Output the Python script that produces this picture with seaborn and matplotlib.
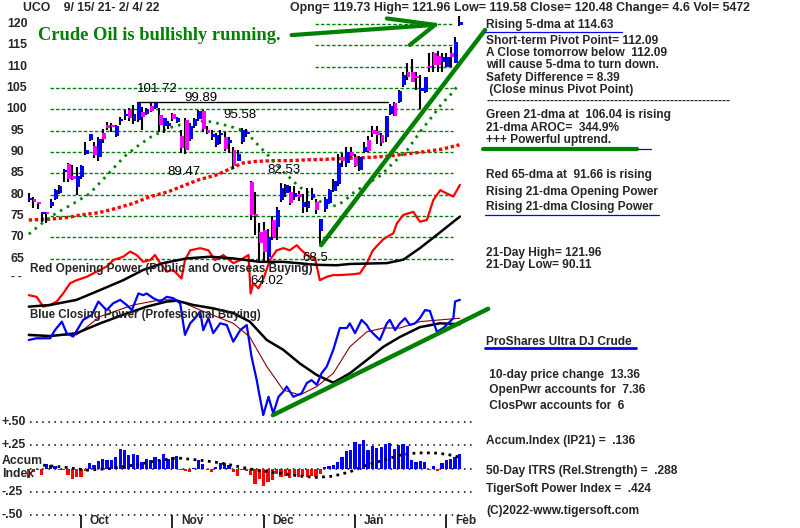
import matplotlib
matplotlib.use("Agg")
import matplotlib.pyplot as plt
import seaborn as sns
import numpy as np

# ---------------- data ----------------
days = list(range(100))
opens = [78.8, 79.0, 78.0, 75.5, 76.0, 77.4, 78.9, 80.5, 85.3, 87.2,
         84.4, 81.9, 84.1, 89.5, 92.8, 91.4, 88.9, 94.5, 96.3, 96.2,
         93.8, 97.3, 98.5, 99.9, 97.4, 97.5, 99.5, 98.9, 100.8, 100.3,
         98.7, 96.1, 96.0, 99.0, 97.1, 93.8, 97.5, 93.0, 96.1, 97.7,
         99.7, 95.2, 93.5, 91.7, 94.0, 93.6, 92.1, 90.5, 87.8, 92.4,
         94.2, 83.1, 75.5, 71.4, 71.8, 65.5, 74.1, 72.5, 78.8, 80.4,
         80.7, 79.5, 80.0, 77.2, 77.0, 79.5, 78.4, 71.6, 76.7, 78.1,
         81.0, 82.5, 88.9, 87.4, 90.1, 88.9, 85.8, 90.1, 92.8, 95.2,
         95.0, 94.0, 93.5, 98.9, 101.4, 101.8, 105.7, 108.8, 108.8, 107.7,
         104.2, 104.1, 110.2, 113.1, 112.5, 111.2, 110.0, 113.3, 110.8, 119.73]
highs = [80.4, 79.6, 78.4, 76.0, 76.0, 79.0, 81.3, 82.2, 86.0, 87.5,
         87.0, 86.5, 87.0, 92.4, 94.3, 92.4, 93.6, 95.4, 97.1, 96.7,
         96.3, 98.2, 99.9, 100.3, 101.0, 101.7, 100.6, 100.3, 101.5, 101.72,
         100.3, 98.0, 97.3, 99.2, 98.2, 95.2, 97.9, 96.8, 97.9, 99.89,
         99.9, 96.0, 95.2, 94.5, 95.2, 94.8, 93.5, 91.2, 90.5, 95.58,
         95.4, 83.3, 80.7, 73.4, 73.6, 72.0, 75.0, 77.2, 82.7, 82.53,
         82.0, 82.0, 81.0, 80.3, 81.7, 81.5, 79.0, 74.4, 79.5, 81.4,
         83.6, 89.6, 89.7, 91.3, 91.3, 89.5, 89.2, 92.4, 93.8, 96.0,
         96.0, 94.5, 98.5, 101.2, 101.8, 104.6, 108.8, 110.8, 111.7, 108.8,
         108.0, 107.6, 113.1, 113.5, 113.7, 113.1, 113.3, 114.7, 117.0, 121.96]
lows = [78.3, 76.8, 76.6, 73.7, 73.3, 76.8, 78.7, 80.3, 83.1, 83.0,
        83.5, 80.0, 83.8, 89.3, 92.5, 88.6, 87.9, 92.1, 95.2, 94.8,
        93.5, 96.3, 97.5, 97.2, 96.6, 97.0, 95.2, 98.6, 99.4, 100.0,
        94.8, 94.5, 95.3, 97.3, 96.9, 89.7, 89.47, 92.5, 95.6, 97.3,
        94.8, 94.2, 92.8, 91.3, 92.0, 90.2, 89.7, 86.0, 87.8, 92.0,
        93.6, 74.0, 70.6, 64.5, 64.3, 64.02, 69.5, 69.4, 78.3, 79.5,
        77.5, 78.8, 78.5, 75.7, 76.0, 78.8, 75.5, 68.5, 76.0, 77.8,
        80.7, 82.0, 86.6, 86.6, 88.9, 86.5, 85.5, 89.9, 90.1, 93.6,
        92.0, 91.5, 92.4, 98.6, 98.4, 101.5, 105.3, 106.9, 106.5, 104.5,
        100.2, 103.8, 108.8, 108.8, 108.8, 108.8, 110.0, 110.0, 110.8, 119.58]
closes = [79.0, 78.2, 77.8, 75.7, 75.5, 78.4, 81.1, 82.0, 85.5, 83.6,
          83.7, 84.4, 86.7, 90.6, 94.2, 89.3, 93.0, 93.0, 95.6, 95.9,
          96.1, 97.7, 98.8, 97.9, 98.9, 101.4, 98.3, 100.0, 99.7, 101.4,
          96.3, 97.9, 96.8, 97.7, 98.0, 90.9, 90.5, 96.0, 97.7, 99.7,
          95.3, 94.4, 94.3, 94.0, 94.5, 90.7, 92.8, 86.7, 89.6, 95.2,
          94.5, 75.3, 75.0, 68.6, 66.7, 70.2, 70.2, 76.4, 81.5, 82.3,
          78.0, 80.5, 79.6, 78.4, 78.5, 80.3, 76.4, 74.3, 79.0, 81.1,
          83.3, 87.4, 87.8, 90.1, 89.1, 86.7, 88.9, 91.3, 90.3, 94.2,
          94.0, 92.2, 98.5, 100.8, 98.5, 104.4, 108.0, 107.7, 106.5, 107.3,
          104.9, 107.5, 109.6, 110.4, 110.5, 112.2, 112.2, 112.2, 115.88, 120.48]

ma21_day = [0, 3, 6, 11, 14, 18, 22, 25, 28, 32, 36, 39, 42, 46, 50, 52, 54, 56, 58,
            60, 62, 65, 67, 69, 71, 73, 75, 77, 81, 83, 87, 90, 93, 95, 97, 99]
ma21_val = [70.8, 73.3, 75.5, 78.4, 80.3, 84.6, 89.0, 91.4, 93.5, 95.6, 96.7, 97.3, 97.1,
            96.1, 94.8, 92.4, 90.3, 88.2, 85.8, 84.0, 82.0, 80.0, 78.4, 77.3, 77.5, 79.0,
            80.8, 82.0, 84.6, 86.7, 90.5, 94.8, 98.7, 101.4, 103.5, 106.0]
ma65_day = [0, 5, 9, 12, 16, 20, 24, 28, 32, 35, 39, 43, 47, 49, 52, 56, 60, 64, 68,
            72, 75, 79, 83, 87, 91, 95, 99]
ma65_val = [74.1, 74.3, 74.7, 75.3, 75.8, 76.8, 78.0, 79.6, 80.7, 81.9, 83.5, 84.6, 86.4,
            87.4, 87.8, 88.0, 88.0, 88.2, 88.3, 88.5, 88.6, 88.8, 89.1, 89.6, 90.1, 90.7, 91.7]

# Red opening power (drawn on the price scale of the picture)
op_day = [0, 1.8, 3.3, 4.9, 6.4, 7.9, 9.5, 11, 13.3, 15.6, 17.9, 19.4, 21.7, 23.3, 24.8,
          26.3, 27.9, 29, 30.2, 31.7, 33.2, 35.1, 35.9, 37.1, 39.4, 41.3, 42.8, 44.7, 47,
          48.6, 50.5, 51, 51.6, 52.8, 54, 55.4, 57, 58.5, 60, 61.6, 62.7, 63.9, 65.8, 66.9,
          68.5, 70, 71.5, 74.6, 76.1, 77.7, 79.1, 81.5, 83.8, 84.6, 86.1, 88.4, 89.9, 91.5,
          93, 94.6, 96.1, 97.6, 99.1]
op_val = [56.5, 56.1, 53.8, 54.2, 55.0, 56.9, 59.3, 60.0, 60.8, 62.0, 63.2, 64.7, 65.5,
          66.7, 65.9, 64.3, 64.7, 65.9, 64.0, 62.0, 62.4, 60.4, 64.7, 67.0, 67.5, 67.0, 64.7,
          65.9, 64.0, 64.7, 65.9, 56.9, 59.3, 58.1, 60.5, 64.7, 67.0, 67.5, 67.0, 68.2, 67.0,
          65.9, 65.1, 60.0, 60.8, 61.2, 61.2, 61.4, 61.6, 64.0, 67.0, 69.6, 71.0, 73.3, 75.3,
          76.0, 73.7, 74.1, 78.8, 81.1, 80.3, 79.6, 82.3]
opma_day = [0, 4.9, 11, 16.4, 21.7, 26.3, 30.9, 36.3, 41.7, 47, 53.1, 58.5, 66.2, 70.8,
            73.8, 82.3, 86.1, 89.9, 93.8, 99.1]
opma_val = [53.8, 54.2, 55.4, 57.7, 60.0, 62.4, 64.0, 65.1, 65.5, 65.1, 64.3, 64.3, 63.6,
            63.5, 63.8, 64.0, 64.8, 67.5, 70.6, 74.9]

# Blue closing power (middle band)
cp_day = [0, 1.8, 4.9, 6, 7.6, 8.7, 10.2, 12.5, 14.5, 16, 17.1, 17.9, 19.4, 21, 22.5, 23.7,
          25.2, 26.3, 27.1, 28.6, 30.2, 31.7, 33.2, 34.8, 35.9, 37.1, 38.2, 39.4, 40.1, 41.3,
          42.4, 44, 45.5, 47, 48.6, 50.1, 51.2, 52.4, 52.8, 53.9, 55.1, 56.2, 57.4, 58.5,
          59.3, 60.8, 62.7, 63.9, 65, 66.2, 67.3, 68.5, 70, 71.5, 73.1, 73.8, 75, 76.5, 77.7,
          78.4, 80.7, 82.3, 83, 84.2, 85.3, 86.5, 87.6, 88.8, 89.9, 91.1, 92.2, 93.8, 95.3,
          96.4, 97.6, 98, 99.1]
cp_val = [46.0, 46.4, 46.4, 48.3, 50.3, 47.6, 46.8, 50.7, 51.9, 55.0, 53.8, 53.0, 54.6,
          55.4, 54.2, 53.0, 56.9, 56.5, 56.9, 55.8, 55.0, 56.1, 55.8, 54.6, 47.2, 49.9, 51.1,
          52.6, 48.3, 51.1, 47.6, 49.9, 49.5, 45.6, 48.3, 49.5, 42.1, 36.6, 34.3, 28.4, 32.7,
          28.8, 32.7, 33.9, 35.1, 32.7, 33.5, 35.9, 36.6, 35.5, 38.2, 39.8, 43.7, 48.8, 48.8,
          49.9, 47.6, 50.7, 49.5, 48.3, 46.0, 49.9, 50.7, 48.3, 49.9, 51.1, 49.5, 49.9, 51.1,
          53.0, 52.8, 47.9, 48.8, 49.9, 51.1, 55.0, 55.4]
cpma_day = [0, 4.9, 11, 16.4, 21.7, 27.1, 31.7, 34, 37.8, 42.4, 47, 50.8, 54.7, 58.5, 62.3,
            66.2, 70, 73.8, 77.7, 81.5, 85.3, 89.9, 94.5, 99.1]
cpma_val = [47.2, 46.9, 47.6, 49.9, 51.9, 53.8, 55.0, 55.2, 54.2, 53.4, 52.3, 50.3, 46.0,
            43.7, 40.5, 37.8, 36.0, 38.2, 41.3, 44.4, 46.7, 49.0, 49.9, 49.7]
cpma2_day = [0, 11, 16.4, 24, 30.2, 34, 39.4, 47, 50.8, 54.7, 58.5, 62.3, 66.2, 70, 73.8,
             77.7, 81.5, 85.3, 89.9, 94.5, 99.1]
cpma2_val = [47.0, 47.2, 51.5, 54.2, 55.4, 55.4, 53.0, 49.9, 46.7, 39.8, 34.3, 33.1, 35.1,
             38.2, 44.4, 47.9, 48.8, 48.8, 50.3, 50.7, 51.1]

# Accumulation index (IP21)
accum = [-0.107, -0.036, -0.018, -0.071, 0.046, 0.036, 0.025, -0.018, -0.011, -0.071,
         -0.118, -0.096, -0.089, -0.025, 0.054, 0.036, 0.082, 0.107, 0.089, 0.089,
         0.125, 0.214, 0.196, 0.143, 0.154, 0.143, 0.071, 0.107, 0.089, 0.125,
         0.096, 0.161, 0.107, 0.125, 0.132, -0.018, -0.025, -0.036, 0.008, 0.089,
         0.046, -0.011, -0.036, 0.018, 0.061, 0.054, 0.036, -0.036, -0.082, -0.011,
         -0.025, -0.071, -0.168, -0.118, -0.189, -0.143, -0.125, -0.054, -0.096, -0.082,
         -0.107, -0.082, -0.096, -0.082, -0.096, -0.082, -0.096, -0.061, 0.018, 0.025,
         0.036, 0.071, 0.125, 0.186, 0.196, 0.286, 0.268, 0.304, 0.196, 0.239,
         0.225, 0.232, 0.268, 0.275, 0.214, 0.250, 0.268, 0.239, 0.089, 0.071,
         0.082, 0.071, -0.011, 0.025, -0.025, 0.061, 0.096, 0.107, 0.125, 0.154]
accma_day = [3.3, 8.7, 13.3, 18.7, 24, 29.4, 34, 39.4, 44, 48.5, 53.1, 58.5, 62.3, 66.2,
             70, 73.8, 77.7, 81.5, 85.3, 89.2, 93, 96, 98.7]
accma_val = [0.036, 0.011, -0.018, 0.0, 0.036, 0.082, 0.114, 0.089, 0.061, 0.018, -0.025,
             -0.054, -0.082, -0.096, -0.082, -0.036, 0.036, 0.089, 0.143, 0.168, 0.168,
             0.154, 0.125]

price_ticks = [120, 115, 110, 105, 100, 95, 90, 85, 80, 75, 70, 65]
accum_ticks = [0.50, 0.25, 0.0, -0.25, -0.50]
accum_tick_labels = ["+.50", "+.25", "", "-.25", "-.50"]
month_labels = ["Oct", "Nov", "Dec", "Jan", "Feb"]
month_start = [12, 33, 54, 75, 96]

# trend lines / annotations (day index, price-scale value)
trend_up_day = [67.2, 104.9]
trend_up_val = [68.2, 118.6]
trend_cp_day = [56.1, 105.6]
trend_cp_val = [28.4, 53.3]
arrow_shaft_day = [60.4, 93.4]
arrow_shaft_val = [117.4, 119.8]
arrow_barb1_day = [82.3, 93.4]
arrow_barb1_val = [121.3, 119.8]
arrow_barb2_day = [87.6, 93.4]
arrow_barb2_val = [115.1, 119.8]
resist_day = [25.1, 82.6]
resist_val = [101.72, 101.72]
peak_labels = [("101.72", 29, 101.72), ("99.89", 39, 99.89), ("95.58", 49, 95.58),
               ("89.47", 36, 89.47), ("82.53", 59, 82.53), ("64.02", 55, 64.02),
               ("68.5", 67, 68.5)]

# ---------------- style ----------------
sns.set_theme(style="white")
plt.rcParams['font.family'] = ['Liberation Sans', 'DejaVu Sans']

W, H = 800, 528
fig = plt.figure(figsize=(8, 5.28), dpi=100)
fig.patch.set_facecolor("white")

PX_PER_DAY = 4.35
X0 = 28.8
def xlim_from_px():
    return ((0 - X0) / PX_PER_DAY, (W - X0) / PX_PER_DAY)

PPU = 4.27  # pixels per price unit
def price_at(y):
    return 120 - (y - 24) / PPU

top_h = 420
ax = fig.add_axes([0, (H - top_h) / H, 1, top_h / H])
ax.set_xlim(*xlim_from_px())
ax.set_ylim(price_at(top_h), price_at(0))
ax.axis("off")

GREEN = "#008000"
BLUE = "#0000ff"
MAG = "#ff00ff"
RED = "#ff0000"

# price grid
for p in price_ticks:
    start = 65.8 if p >= 110 else 4.9
    ax.plot([start, 97.5], [p, p], color=GREEN, lw=1.0, ls=(0, (2.5, 1.5)), zorder=1)

# moving averages
sns.lineplot(x=ma65_day, y=ma65_val, ax=ax, color=RED, lw=2.4, estimator=None, sort=False)
ax.lines[-1].set_dashes((1.0, 0.8))
sns.lineplot(x=ma21_day, y=ma21_val, ax=ax, color=GREEN, lw=2.0, estimator=None, sort=False)
ax.lines[-1].set_dashes((0.9, 1.9))

# opening power + its MA
sns.lineplot(x=op_day, y=op_val, ax=ax, color=RED, lw=1.6, estimator=None, sort=False)
sns.lineplot(x=opma_day, y=opma_val, ax=ax, color="black", lw=1.8, estimator=None, sort=False)

# closing power + MAs
sns.lineplot(x=cpma2_day, y=cpma2_val, ax=ax, color="#8b0000", lw=0.8, estimator=None, sort=False)
sns.lineplot(x=cpma_day, y=cpma_val, ax=ax, color="black", lw=1.8, estimator=None, sort=False)
sns.lineplot(x=cp_day, y=cp_val, ax=ax, color=BLUE, lw=1.6, estimator=None, sort=False)

# candles
o = np.array(opens); c = np.array(closes)
ax.vlines(days, lows, highs, color="black", lw=1.5, zorder=3)
bottoms = np.minimum(o, c)
heights = np.maximum(np.abs(c - o), 0.5)
cols = [BLUE if cc >= oo else MAG for oo, cc in zip(opens, closes)]
ax.bar(np.array(days) + 0.3, heights, bottom=bottoms, width=0.88, color=cols, zorder=4, linewidth=0)

# trend lines
ax.plot(trend_up_day, trend_up_val, color=GREEN, lw=3.2, solid_capstyle="round", zorder=5)
ax.plot(trend_cp_day, trend_cp_val, color=GREEN, lw=3.2, solid_capstyle="round", zorder=5)
for dd, vv in [(arrow_shaft_day, arrow_shaft_val), (arrow_barb1_day, arrow_barb1_val),
               (arrow_barb2_day, arrow_barb2_val)]:
    ax.plot(dd, vv, color=GREEN, lw=3.0, solid_capstyle="round", zorder=5)
ax.plot(resist_day, resist_val, color="black", lw=1.0, zorder=2)

# peak / trough labels
offsets = {"101.72": (0.6, 3.1), "99.89": (0.5, 2.7), "95.58": (-0.4, 3.1), "89.47": (-0.3, -4.2),
           "82.53": (-0.3, 3.3), "64.02": (-0.2, -4.2), "68.5": (-1.2, -3.4)}
for txt, d, v in peak_labels:
    dx, dy = offsets[txt]
    ax.text(d + dx, v + dy, txt, fontsize=9.5, ha="center", va="center", color="black", zorder=6)

def ftext(x, y, s, **kw):
    fig.text(x / W, 1 - y / H, s, **kw)

# y tick labels
for p in price_ticks:
    ftext(17, 24 + (120 - p) * PPU, str(p), fontsize=8.8, fontweight="bold", ha="center", va="center")
ftext(16, 276, "- -", fontsize=8, fontweight="bold", ha="center", va="center")

# in-plot texts
ftext(23, 8, "UCO    9/ 15/ 21- 2/ 4/ 22", fontsize=8.8, fontweight="bold", va="center")
ftext(290, 8, "Opng= 119.73 High= 121.96 Low= 119.58 Close= 120.48 Change= 4.6 Vol= 5472",
      fontsize=8.95, fontweight="bold", va="center")
ftext(38, 35, "Crude Oil is bullishly running.", fontsize=13.3, fontweight="bold",
      color=GREEN, family="Liberation Serif", va="center")
ftext(30, 269, "Red Opening Power (Public and Overseas Buying)", fontsize=8.5,
      fontweight="bold", va="center")
ftext(30, 315, "Blue Closing Power (Professional Buying)", fontsize=8.3,
      fontweight="bold", va="center")

# right side text block
right = [
    (25, "Rising 5-dma at 114.63"),
    (41, "Short-term Pivot Point= 112.09"),
    (53, "A Close tomorrow below  112.09"),
    (65, "will cause 5-dma to turn down."),
    (78, "Safety Difference = 8.39"),
    (90, " (Close minus Pivot Point)"),
    (101, "-------------------------------------------------------------"),
    (115, "Green 21-dma at  106.04 is rising"),
    (128, "21-dma AROC=  344.9%"),
    (140, "+++ Powerful uptrend."),
    (175, "Red 65-dma at  91.66 is rising"),
    (192, "Rising 21-dma Opening Power"),
    (207, "Rising 21-dma Closing Power"),
    (253, "21-Day High= 121.96"),
    (265, "21-Day Low= 90.11"),
    (342, "ProShares Ultra DJ Crude"),
    (375, " 10-day price change  13.36"),
    (390, " OpenPwr accounts for  7.36"),
    (406, " ClosPwr accounts for  6"),
    (441, "Accum.Index (IP21) =  .136"),
    (471, "50-Day ITRS (Rel.Strength) =  .288"),
    (489, "TigerSoft Power Index =  .424"),
    (511, "(C)2022-www.tigersoft.com"),
]
for y, s in right:
    ftext(486, y, s, fontsize=8.6, fontweight="bold", va="center")

# underline bars in right block
def hline_px(x0, x1, y, color, lw):
    fig.add_artist(plt.Line2D([x0 / W, x1 / W], [1 - y / H, 1 - y / H], color=color, lw=lw,
                              transform=fig.transFigure))
hline_px(485, 622, 32, BLUE, 0.9)
hline_px(483, 637, 149, GREEN, 3.0)
hline_px(637, 651, 149, BLUE, 0.9)
hline_px(485, 659, 215, BLUE, 0.9)
hline_px(485, 636, 348, BLUE, 2.0)

# ---------------- accumulation panel ----------------
ax2 = fig.add_axes([0, 0, 1, (H - top_h) / H])
ax2.set_xlim(*xlim_from_px())
APU = 93.0
ZERO = 468.5
ax2.set_ylim((ZERO - H) / APU, (ZERO - top_h) / APU)
ax2.axis("off")
for v in accum_ticks:
    ax2.plot([0.28, 101.9], [v, v], color="black", lw=1.1, ls=(0, (1, 3)), zorder=1)
acols = [BLUE if v >= 0 else RED for v in accum]
ax2.bar(days, accum, width=0.75, color=acols, linewidth=0, zorder=2)
sns.lineplot(x=accma_day, y=accma_val, ax=ax2, color="black", lw=2.0, estimator=None, sort=False)
ax2.lines[-1].set_dashes((1.0, 1.6))
ax2.lines[-1].set_zorder(3)

for v, lab in zip(accum_ticks, accum_tick_labels):
    if lab:
        ftext(2, ZERO - v * APU, lab, fontsize=8.8, fontweight="bold", va="center")
ftext(2, 461, "Accum", fontsize=8.8, fontweight="bold", va="center")
ftext(2, 474, "Index", fontsize=8.8, fontweight="bold", va="center")

for d, lab in zip(month_start, month_labels):
    ax2.vlines(d, (ZERO - H) / APU, (ZERO - 515) / APU, color="black", lw=1.2)
    ax2.text(d + 2.0, (ZERO - 521) / APU, lab, fontsize=8.6, fontweight="bold", va="center")

fig.savefig("out.png", dpi=100)
